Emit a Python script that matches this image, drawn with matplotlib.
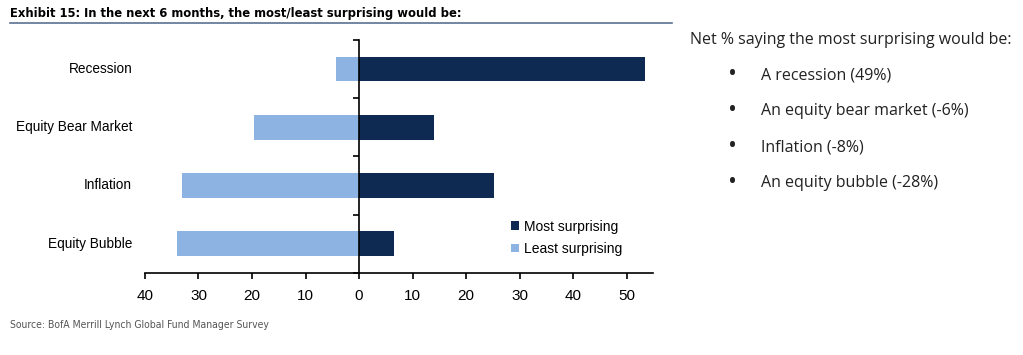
import matplotlib.pyplot as plt
import numpy as np

categories = ["Recession", "Equity Bear Market", "Inflation", "Equity Bubble"]
most_surprising = [53.5, 14, 25.3, 6.5]
least_surprising = [-4.3, -19.7, -33, -34]
x_ticks = [-40, -30, -20, -10, 0, 10, 20, 30, 40, 50]
notes = ["A recession (49%)", "An equity bear market (-6%)",
         "Inflation (-8%)", "An equity bubble (-28%)"]

dark = "#0e2a52"
light = "#8db3e2"
chart_font = "Liberation Sans"

fig = plt.figure(figsize=(10.23, 3.55), dpi=100)
ax = fig.add_axes([0.1417, 0.232, 0.497, 0.655])

y = np.arange(len(categories))
ax.barh(y, most_surprising, height=0.42, color=dark, label="Most surprising")
ax.barh(y, least_surprising, height=0.42, color=light, label="Least surprising")

ax.set_xlim(-40, 55)
ax.set_ylim(3.5, -0.5)
ax.spines["top"].set_visible(False)
ax.spines["right"].set_visible(False)
ax.spines["left"].set_position(("data", 0))
ax.spines["left"].set_linewidth(1.2)
ax.spines["bottom"].set_linewidth(1.2)

ax.set_xticks(x_ticks)
ax.set_xticklabels([str(abs(v)) for v in x_ticks], family=chart_font, fontsize=11)
ax.tick_params(axis="x", direction="out", length=4, width=1.2, pad=8)
ax.set_yticks(np.arange(-0.5, len(categories), 1.0))
ax.set_yticklabels([])
ax.tick_params(axis="y", direction="out", length=4, width=1.2)

for yi, name in zip(y, categories):
    ax.text(-0.025, yi, name, transform=ax.get_yaxis_transform(), ha="right",
            va="center", fontsize=9.8, family=chart_font)

leg = ax.legend(loc="upper left", bbox_to_anchor=(0.72, 0.228), frameon=False,
                borderpad=0, borderaxespad=0,
                handlelength=0.6, handleheight=0.6, handletextpad=0.3,
                labelspacing=0.6, prop={"family": chart_font, "size": 10})

# title with rule underneath
fig.text(10 / 1023, 1 - 14 / 355, "Exhibit 15: In the next 6 months, the most/least surprising would be:",
         fontsize=9.3, fontweight="bold", fontstretch="condensed",
         family="DejaVu Sans", va="center", ha="left")
fig.add_artist(plt.Line2D([10 / 1023, 672 / 1023], [1 - 23 / 355, 1 - 23 / 355],
                          color="#5a7390", linewidth=1.2))

fig.text(10 / 1023, 1 - 325 / 355, "Source: BofA Merrill Lynch Global Fund Manager Survey",
         fontsize=7.5, color="#555555", fontstretch="condensed", family="DejaVu Sans",
         va="center", ha="left")

# side notes
fig.text(690 / 1023, 1 - 40 / 355, "Net % saying the most surprising would be:",
         fontsize=11.5, color="#222222", family="Open Sans", va="center", ha="left")
for i, note in enumerate(notes):
    yy = 1 - (75 + 36 * i) / 355
    fig.text(733 / 1023, yy, "\u2022", fontsize=17, color="#222222", family="Open Sans",
             va="center", ha="center")
    fig.text(761 / 1023, yy, note, fontsize=11.5, color="#222222", family="Open Sans",
             va="center", ha="left")

fig.savefig("out.png", dpi=100)
